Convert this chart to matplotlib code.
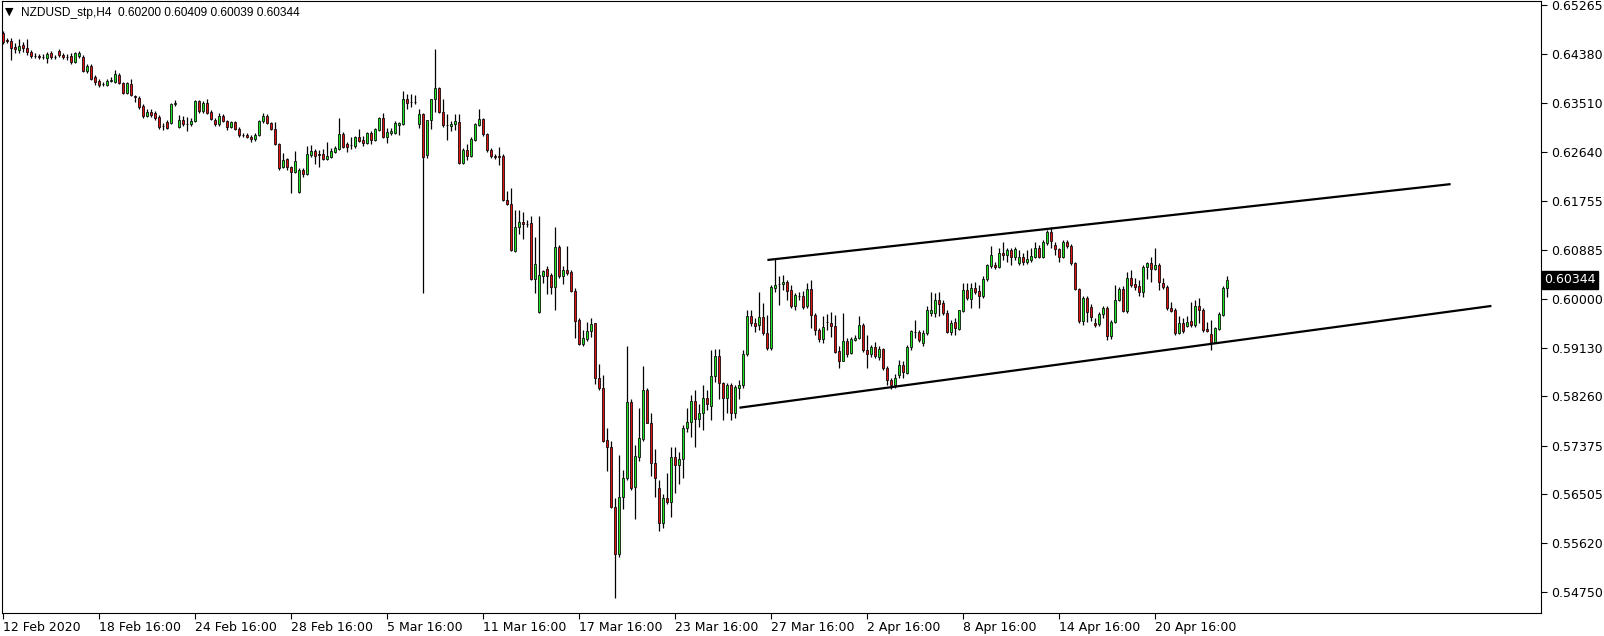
import matplotlib
matplotlib.use("Agg")
import matplotlib.pyplot as plt
import numpy as np

symbol_title = "NZDUSD_stp,H4  0.60200 0.60409 0.60039 0.60344"
x_labels = ["12 Feb 2020", "18 Feb 16:00", "24 Feb 16:00", "28 Feb 16:00", "5 Mar 16:00",
            "11 Mar 16:00", "17 Mar 16:00", "23 Mar 16:00", "27 Mar 16:00", "2 Apr 16:00",
            "8 Apr 16:00", "14 Apr 16:00", "20 Apr 16:00"]
x_label_bars = [0, 24, 48, 72, 96, 120, 144, 168, 192, 216, 240, 264, 288]
y_ticks = [0.65265, 0.64380, 0.63510, 0.62640, 0.61755, 0.60885, 0.60000,
           0.59130, 0.58260, 0.57375, 0.56505, 0.55620, 0.54750]
last_price = 0.60344

upper_line_x = [191.1, 361.9]
upper_line_y = [0.60698, 0.62057]
lower_line_x = [184.1, 372.1]
lower_line_y = [0.58052, 0.59875]

opens = [
0.6476,0.6464,0.6462,0.6451,0.6446,0.6455,0.6450,0.6442,0.6435,0.6435,
0.6433,0.6432,0.6441,0.6433,0.6444,0.6437,0.6433,0.6435,0.6425,0.6435,
0.6433,0.6408,0.6417,0.6398,0.6391,0.6385,0.6383,0.6391,0.6389,0.6401,
0.6387,0.6369,0.6385,0.6364,0.6360,0.6346,0.6328,0.6335,0.6333,0.6326,
0.6310,0.6317,0.6315,0.6349,0.6308,0.6321,0.6314,0.6314,0.6319,0.6355,
0.6337,0.6351,0.6335,0.6321,0.6314,0.6328,0.6319,0.6308,0.6317,0.6305,
0.6294,0.6294,0.6290,0.6287,0.6294,0.6319,0.6328,0.6315,0.6305,0.6278,
0.6237,0.6251,0.6237,0.6228,0.6192,0.6231,0.6224,0.6258,0.6265,0.6260,
0.6260,0.6251,0.6254,0.6263,0.6269,0.6296,0.6278,0.6276,0.6274,0.6290,
0.6285,0.6280,0.6297,0.6285,0.6303,0.6324,0.6290,0.6297,0.6297,0.6312,
0.6314,0.6358,0.6353,0.6353,0.6314,0.6331,0.6258,0.6321,0.6358,0.6378,
0.6335,0.6312,0.6310,0.6314,0.6317,0.6244,0.6267,0.6256,0.6285,0.6312,
0.6322,0.6296,0.6267,0.6256,0.6256,0.6256,0.6178,0.6170,0.6086,0.6129,
0.6138,0.6135,0.6136,0.6036,0.5977,0.6041,0.6054,0.6043,0.6022,0.6093,
0.6041,0.6052,0.6049,0.6015,0.5963,0.5920,0.5929,0.5943,0.5957,0.5859,
0.5841,0.5748,0.5734,0.5628,0.5544,0.5646,0.5680,0.5816,0.5664,0.5717,
0.5750,0.5837,0.5778,0.5707,0.5662,0.5599,0.5644,0.5637,0.5717,0.5703,
0.5714,0.5769,0.5780,0.5818,0.5785,0.5796,0.5823,0.5809,0.5862,0.5898,
0.5850,0.5823,0.5846,0.5796,0.5841,0.5845,0.5902,0.5970,0.5957,0.5954,
0.5968,0.5939,0.5913,0.6020,0.6027,0.6027,0.6031,0.6016,0.5988,0.6006,
0.6006,0.5988,0.6018,0.5972,0.5945,0.5929,0.5959,0.5957,0.5952,0.5907,
0.5889,0.5925,0.5904,0.5927,0.5930,0.5954,0.5909,0.5902,0.5914,0.5896,
0.5911,0.5877,0.5855,0.5845,0.5864,0.5882,0.5868,0.5914,0.5941,0.5941,
0.5922,0.5939,0.5975,0.5975,0.5999,0.5993,0.5975,0.5941,0.5959,0.5946,
0.5979,0.6016,0.6000,0.6020,0.6015,0.6006,0.6036,0.6059,0.6061,0.6058,
0.6083,0.6079,0.6088,0.6075,0.6065,0.6075,0.6066,0.6070,0.6075,0.6092,
0.6075,0.6101,0.6120,0.6097,0.6090,0.6075,0.6102,0.6095,0.6065,0.6018,
0.5961,0.6002,0.5986,0.5957,0.5955,0.5973,0.5984,0.5934,0.5959,0.5999,
0.6018,0.5979,0.6038,0.6027,0.6024,0.6013,0.6058,0.6065,0.6054,0.6061,
0.6029,0.6022,0.5984,0.5981,0.5939,0.5957,0.5952,0.5961,0.5954,0.5988,
0.5981,0.5947,0.5937,0.5923,0.5947,0.5972,0.60200]

highs = [
0.6480,0.6467,0.6467,0.6459,0.6466,0.6460,0.6466,0.6446,0.6441,0.6439,
0.6439,0.6442,0.6444,0.6437,0.6448,0.6441,0.6439,0.6441,0.6442,0.6444,
0.6437,0.6421,0.6421,0.6401,0.6394,0.6389,0.6394,0.6398,0.6410,0.6405,
0.6389,0.6389,0.6394,0.6365,0.6364,0.6349,0.6340,0.6340,0.6337,0.6330,
0.6315,0.6321,0.6351,0.6357,0.6330,0.6328,0.6326,0.6324,0.6357,0.6357,
0.6355,0.6358,0.6339,0.6324,0.6333,0.6331,0.6321,0.6319,0.6319,0.6308,
0.6297,0.6297,0.6294,0.6297,0.6321,0.6333,0.6331,0.6317,0.6317,0.6280,
0.6262,0.6253,0.6238,0.6265,0.6235,0.6235,0.6274,0.6276,0.6269,0.6267,
0.6269,0.6281,0.6271,0.6274,0.6324,0.6299,0.6281,0.6290,0.6292,0.6305,
0.6292,0.6299,0.6301,0.6306,0.6326,0.6333,0.6306,0.6306,0.6319,0.6317,
0.6373,0.6367,0.6367,0.6365,0.6340,0.6333,0.6321,0.6358,0.6448,0.6380,
0.6358,0.6331,0.6319,0.6331,0.6331,0.6271,0.6278,0.6290,0.6315,0.6340,
0.6324,0.6297,0.6271,0.6260,0.6272,0.6260,0.6194,0.6199,0.6160,0.6160,
0.6156,0.6142,0.6149,0.6111,0.6149,0.6052,0.6059,0.6047,0.6129,0.6097,
0.6059,0.6095,0.6052,0.6020,0.5966,0.5945,0.5959,0.5966,0.5957,0.5884,
0.5864,0.5769,0.5746,0.5644,0.5721,0.5694,0.5916,0.5820,0.5739,0.5805,
0.5880,0.5841,0.5796,0.5732,0.5676,0.5651,0.5689,0.5735,0.5734,0.5726,
0.5775,0.5805,0.5828,0.5837,0.5811,0.5846,0.5837,0.5909,0.5911,0.5911,
0.5852,0.5850,0.5850,0.5846,0.5855,0.5909,0.5981,0.5981,0.5966,0.6013,
0.5993,0.5972,0.6025,0.6072,0.6041,0.6043,0.6034,0.6025,0.6011,0.6013,
0.6015,0.6029,0.6034,0.5975,0.5948,0.5970,0.5973,0.5977,0.5972,0.5916,
0.5975,0.5930,0.5932,0.5936,0.5970,0.5957,0.5936,0.5918,0.5923,0.5916,
0.5913,0.5880,0.5859,0.5866,0.5891,0.5888,0.5918,0.5945,0.5963,0.5945,
0.5945,0.5988,0.6013,0.6011,0.6013,0.5999,0.5981,0.5963,0.5966,0.5981,
0.6029,0.6029,0.6029,0.6031,0.6025,0.6041,0.6063,0.6095,0.6067,0.6092,
0.6102,0.6092,0.6092,0.6093,0.6088,0.6083,0.6088,0.6092,0.6102,0.6097,
0.6106,0.6124,0.6129,0.6102,0.6092,0.6106,0.6106,0.6099,0.6067,0.6020,
0.6006,0.6006,0.5991,0.5966,0.5977,0.5988,0.5988,0.5963,0.6025,0.6022,
0.6024,0.6049,0.6052,0.6038,0.6034,0.6061,0.6067,0.6075,0.6092,0.6065,
0.6038,0.6025,0.5995,0.5984,0.5970,0.5966,0.5970,0.5995,0.5999,0.6002,
0.5984,0.5959,0.5963,0.5950,0.5977,0.6024,0.60409]

lows = [
0.6457,0.6459,0.6428,0.6441,0.6441,0.6442,0.6437,0.6432,0.6432,0.6430,
0.6430,0.6423,0.6430,0.6430,0.6433,0.6430,0.6428,0.6421,0.6423,0.6432,
0.6407,0.6405,0.6392,0.6383,0.6380,0.6382,0.6382,0.6389,0.6387,0.6385,
0.6367,0.6367,0.6364,0.6353,0.6340,0.6324,0.6326,0.6326,0.6321,0.6305,
0.6303,0.6305,0.6314,0.6346,0.6306,0.6310,0.6301,0.6310,0.6317,0.6333,
0.6333,0.6331,0.6321,0.6310,0.6310,0.6317,0.6303,0.6306,0.6303,0.6290,
0.6290,0.6288,0.6281,0.6283,0.6292,0.6315,0.6314,0.6303,0.6276,0.6231,
0.6235,0.6231,0.6190,0.6226,0.6190,0.6219,0.6222,0.6254,0.6242,0.6237,
0.6249,0.6249,0.6253,0.6262,0.6267,0.6271,0.6263,0.6269,0.6271,0.6281,
0.6274,0.6278,0.6278,0.6283,0.6301,0.6288,0.6280,0.6294,0.6296,0.6294,
0.6312,0.6340,0.6344,0.6349,0.6306,0.6010,0.6253,0.6305,0.6335,0.6333,
0.6308,0.6285,0.6301,0.6303,0.6242,0.6242,0.6249,0.6254,0.6283,0.6310,
0.6292,0.6263,0.6253,0.6251,0.6240,0.6176,0.6169,0.6086,0.6084,0.6117,
0.6108,0.6129,0.6034,0.6011,0.5975,0.6029,0.6009,0.6009,0.5981,0.6038,
0.6027,0.6043,0.6013,0.5930,0.5918,0.5916,0.5925,0.5932,0.5848,0.5837,
0.5743,0.5692,0.5626,0.5465,0.5537,0.5623,0.5676,0.5657,0.5605,0.5710,
0.5746,0.5777,0.5683,0.5646,0.5585,0.5590,0.5633,0.5610,0.5653,0.5669,
0.5680,0.5762,0.5753,0.5735,0.5771,0.5766,0.5802,0.5784,0.5852,0.5820,
0.5784,0.5796,0.5784,0.5787,0.5820,0.5841,0.5898,0.5952,0.5941,0.5945,
0.5936,0.5909,0.5909,0.6013,0.5990,0.6016,0.5999,0.5984,0.5981,0.5999,
0.5982,0.5984,0.5948,0.5936,0.5923,0.5922,0.5945,0.5932,0.5904,0.5877,
0.5888,0.5896,0.5902,0.5925,0.5929,0.5905,0.5877,0.5896,0.5895,0.5891,
0.5873,0.5846,0.5839,0.5841,0.5859,0.5859,0.5866,0.5909,0.5930,0.5923,
0.5916,0.5936,0.5970,0.5968,0.5970,0.5972,0.5939,0.5936,0.5936,0.5945,
0.5977,0.5999,0.5984,0.6009,0.5984,0.6002,0.6033,0.6056,0.6054,0.6056,
0.6070,0.6067,0.6061,0.6070,0.6061,0.6061,0.6063,0.6066,0.6074,0.6074,
0.6074,0.6097,0.6092,0.6079,0.6066,0.6074,0.6092,0.6061,0.6016,0.5957,
0.5954,0.5959,0.5961,0.5950,0.5952,0.5966,0.5927,0.5929,0.5957,0.5997,
0.5977,0.5975,0.6022,0.6016,0.6006,0.6004,0.6036,0.6031,0.6052,0.6016,
0.6018,0.5981,0.5977,0.5936,0.5937,0.5939,0.5950,0.5950,0.5950,0.5957,
0.5941,0.5941,0.5909,0.5922,0.5945,0.5970,0.60039]

closes = [
0.6460,0.6462,0.6450,0.6448,0.6453,0.6450,0.6442,0.6435,0.6435,0.6433,
0.6434,0.6439,0.6433,0.6434,0.6437,0.6433,0.6434,0.6425,0.6441,0.6441,
0.6408,0.6417,0.6394,0.6389,0.6383,0.6385,0.6391,0.6392,0.6403,0.6387,
0.6369,0.6387,0.6365,0.6362,0.6344,0.6328,0.6335,0.6330,0.6324,0.6308,
0.6310,0.6306,0.6349,0.6351,0.6321,0.6314,0.6313,0.6319,0.6355,0.6337,
0.6351,0.6333,0.6322,0.6314,0.6328,0.6319,0.6308,0.6317,0.6305,0.6294,
0.6293,0.6290,0.6287,0.6294,0.6319,0.6328,0.6315,0.6305,0.6278,0.6235,
0.6249,0.6237,0.6228,0.6247,0.6231,0.6224,0.6260,0.6265,0.6256,0.6258,
0.6251,0.6256,0.6265,0.6271,0.6296,0.6272,0.6272,0.6276,0.6290,0.6283,
0.6280,0.6297,0.6285,0.6305,0.6324,0.6290,0.6299,0.6301,0.6315,0.6315,
0.6358,0.6351,0.6352,0.6352,0.6331,0.6254,0.6321,0.6358,0.6378,0.6335,
0.6312,0.6311,0.6314,0.6319,0.6244,0.6267,0.6256,0.6287,0.6314,0.6322,
0.6296,0.6267,0.6256,0.6255,0.6255,0.6178,0.6170,0.6088,0.6129,0.6138,
0.6135,0.6134,0.6036,0.6063,0.6043,0.6050,0.6041,0.6022,0.6093,0.6041,
0.6052,0.6047,0.6015,0.5961,0.5920,0.5930,0.5943,0.5955,0.5859,0.5841,
0.5746,0.5735,0.5628,0.5544,0.5646,0.5680,0.5816,0.5662,0.5719,0.5751,
0.5837,0.5778,0.5707,0.5680,0.5599,0.5644,0.5637,0.5717,0.5703,0.5714,
0.5769,0.5780,0.5818,0.5785,0.5796,0.5823,0.5811,0.5862,0.5898,0.5850,
0.5823,0.5846,0.5796,0.5843,0.5846,0.5902,0.5970,0.5957,0.5952,0.5968,
0.5939,0.5913,0.6022,0.6025,0.6026,0.6031,0.6015,0.5988,0.6007,0.6005,
0.5986,0.6018,0.5972,0.5945,0.5929,0.5950,0.5958,0.5952,0.5905,0.5889,
0.5925,0.5902,0.5929,0.5930,0.5954,0.5909,0.5902,0.5914,0.5898,0.5911,
0.5877,0.5855,0.5845,0.5859,0.5882,0.5870,0.5914,0.5943,0.5940,0.5927,
0.5939,0.5981,0.5981,0.5999,0.5991,0.5975,0.5941,0.5957,0.5948,0.5981,
0.6016,0.6002,0.6020,0.6013,0.6006,0.6036,0.6061,0.6079,0.6058,0.6083,
0.6079,0.6088,0.6075,0.6090,0.6075,0.6066,0.6072,0.6077,0.6092,0.6075,
0.6102,0.6120,0.6104,0.6090,0.6075,0.6102,0.6095,0.6065,0.6018,0.5961,
0.6002,0.5977,0.5968,0.5954,0.5973,0.5984,0.5934,0.5959,0.5999,0.6018,
0.5979,0.6038,0.6025,0.6022,0.6013,0.6058,0.6065,0.6054,0.6061,0.6031,
0.6022,0.5984,0.5979,0.5939,0.5957,0.5943,0.5959,0.5954,0.5988,0.5981,
0.5945,0.5943,0.5923,0.5948,0.5973,0.6020,0.60344]

bull_color = "#1ee61e"
bear_color = "#e01212"

fig = plt.figure(figsize=(16.04, 6.36), dpi=100)
ax = fig.add_axes([2 / 1604, 23 / 636, 1539 / 1604, 612 / 636])

o = np.array(opens)
h = np.array(highs)
l = np.array(lows)
c = np.array(closes)
idx = np.arange(len(o))
colors = np.where(c >= o, bull_color, bear_color)

ax.vlines(idx, l, h, color="black", linewidth=0.9, zorder=2)
ax.bar(idx, c - o, bottom=o, width=0.7, color=colors, edgecolor="black",
       linewidth=0.55, zorder=3)

ax.plot(upper_line_x, upper_line_y, color="black", linewidth=1.6, zorder=4,
        solid_capstyle="butt")
ax.plot(lower_line_x, lower_line_y, color="black", linewidth=1.6, zorder=4,
        solid_capstyle="butt")

ax.set_xlim(-0.25, 384.5)
ax.set_ylim(0.54375, 0.65337)

ax.yaxis.tick_right()
ax.set_yticks(y_ticks)
ax.set_yticklabels([f"{v:.5f}" for v in y_ticks])
ax.tick_params(axis="y", direction="out", length=4, width=0.8, labelsize=9,
               pad=3, colors="black")
ax.set_xticks(x_label_bars)
ax.set_xticklabels(x_labels, ha="left")
ax.tick_params(axis="x", direction="out", length=4, width=0.8, labelsize=9,
               pad=2, colors="black")
for sp in ax.spines.values():
    sp.set_linewidth(0.8)
    sp.set_color("black")

ax.text(1.0018, last_price, f"{last_price:.5f}", transform=ax.get_yaxis_transform(),
        color="white", fontsize=9, va="center", ha="left", zorder=10,
        bbox=dict(boxstyle="square,pad=0.18", fc="black", ec="black"), clip_on=False)

fig.text(5 / 1604, 1 - 12 / 636, "\u25BC", fontsize=8, va="center", ha="left")
fig.text(21 / 1604, 1 - 13 / 636, symbol_title, fontsize=8.6, va="center", ha="left",
         family="Liberation Sans")

fig.savefig("out.png", dpi=100)
